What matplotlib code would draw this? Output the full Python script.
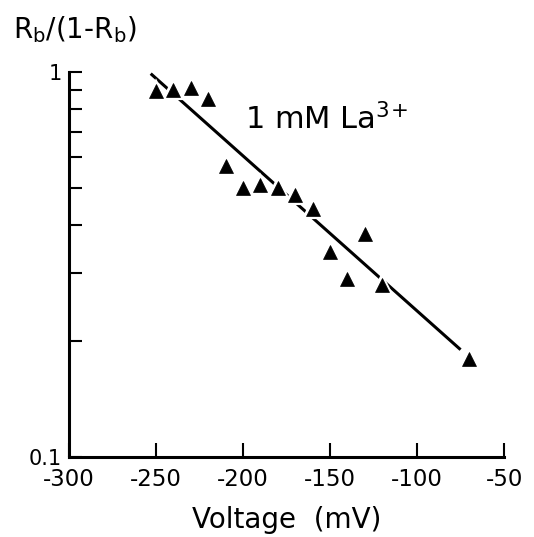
import matplotlib
matplotlib.use("Agg")
import matplotlib.pyplot as plt
from matplotlib.ticker import FixedLocator, NullFormatter, FixedFormatter

plt.rcParams['axes.unicode_minus'] = False
plt.rcParams['font.family'] = ['DejaVu Sans']

voltage = [-250, -240, -230, -220, -210, -200, -190, -180, -170, -160, -150, -140, -130, -120, -70]
ratio = [0.89, 0.90, 0.91, 0.85, 0.57, 0.50, 0.51, 0.50, 0.48, 0.44, 0.34, 0.29, 0.38, 0.28, 0.18]

fit_x = [-253, -75]
fit_y = [0.99, 0.19]

x_ticks = [-300, -250, -200, -150, -100, -50]
y_minor = [0.2, 0.3, 0.4, 0.5, 0.6, 0.7, 0.8, 0.9]

fig = plt.figure(figsize=(5.34, 5.37), dpi=100)
ax = fig.add_axes([0.129, 0.149, 0.815, 0.717])

ax.plot(fit_x, fit_y, color='black', lw=2.2, solid_capstyle='butt', zorder=2)
ax.plot(voltage, ratio, linestyle='none', marker='^', markersize=12,
        markerfacecolor='black', markeredgecolor='white', markeredgewidth=3, zorder=3)
ax.plot(voltage, ratio, linestyle='none', marker='^', markersize=9.5,
        markerfacecolor='black', markeredgecolor='black', markeredgewidth=0.5, zorder=4)

ax.set_yscale('log')
ax.set_xlim(-300, -50)
ax.set_ylim(0.1, 1.0)

for s in ['top', 'right']:
    ax.spines[s].set_visible(False)
for s in ['left', 'bottom']:
    ax.spines[s].set_linewidth(2.2)

ax.xaxis.set_major_locator(FixedLocator(x_ticks))
ax.set_xticklabels([str(v) for v in x_ticks])
ax.tick_params(axis='x', which='major', direction='in', length=10, width=1.5,
               labelsize=16.5, pad=8)
ax.yaxis.set_major_locator(FixedLocator([0.1, 1.0]))
ax.yaxis.set_major_formatter(FixedFormatter(['0.1', '1']))
ax.yaxis.set_minor_locator(FixedLocator(y_minor))
ax.yaxis.set_minor_formatter(NullFormatter())
ax.tick_params(axis='y', which='both', direction='in', length=9, width=1.5,
               labelsize=15, pad=5)

ax.set_xlabel('Voltage  (mV)', fontsize=20, labelpad=11)

fig.text(0.025, 0.945, r'R$_\mathrm{b}$/(1-R$_\mathrm{b}$)', fontsize=20,
         ha='left', va='center')
ax.text(-199, 0.71, r'1 mM La$^{3\!+}$', fontsize=22, ha='left', va='baseline')

fig.savefig('out.png', dpi=100)
